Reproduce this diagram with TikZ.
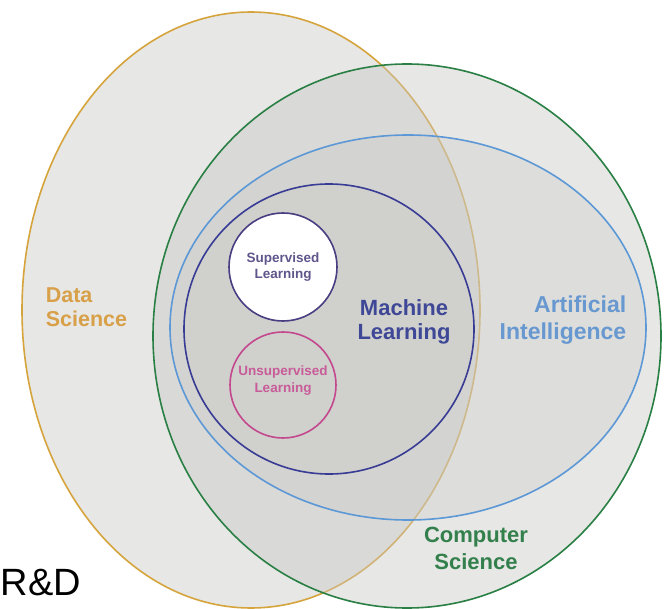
\documentclass[tikz,border=0pt]{standalone}
\usepackage{fontspec}
\setmainfont{Liberation Sans}
\usepackage{tikz}
\usetikzlibrary{positioning,shapes}
\definecolor{dsgold}{RGB}{214,164,60}
\definecolor{dstext}{RGB}{216,160,72}
\definecolor{csgreen}{RGB}{42,128,68}
\definecolor{cstext}{RGB}{52,128,76}
\definecolor{aiblue}{RGB}{92,152,214}
\definecolor{aitext}{RGB}{104,152,208}
\definecolor{mlnavy}{RGB}{56,60,148}
\definecolor{mltext}{RGB}{62,72,150}
\definecolor{supline}{RGB}{72,62,130}
\definecolor{suptext}{RGB}{96,86,140}
\definecolor{unsline}{RGB}{196,72,142}
\definecolor{unstext}{RGB}{200,92,152}
\definecolor{venngray}{RGB}{200,200,196}

\begin{document}
\begin{tikzpicture}[x=1pt, y=-1pt, line width=1.6pt, every node/.append style={inner sep=0pt, font=\bfseries}]
  \useasboundingbox (0,0) rectangle (671,609);
  \path[fill=white] (0,0) rectangle (671,609);
  \draw[draw=dsgold, fill=venngray, fill opacity=.42] (251,310) ellipse [x radius=229, y radius=298];
  \draw[draw=csgreen, fill=venngray, fill opacity=.42] (407,336) ellipse [x radius=254, y radius=272];
  \draw[draw=aiblue, fill=venngray, fill opacity=.3] (408,327.5) ellipse [x radius=238, y radius=192.5];
  \draw[draw=mlnavy, fill=venngray, fill opacity=.25] (329,329) circle [radius=145];
  \draw[draw=supline, fill=white] (283,267) circle [radius=54];
  \draw[draw=unsline] (283,385) circle [radius=53];
  \node [align=left, anchor=west, text=dstext, font=\bfseries\fontsize{21.5}{24}\selectfont] at (45,307) (ds) {Data\\Science};
  \node [align=center, text=mltext, font=\bfseries\fontsize{22}{24}\selectfont] at (404,322) (ml) {Machine\\Learning};
  \node [align=right, anchor=east, text=aitext, font=\bfseries\fontsize{23}{27}\selectfont] at (627,320) (ai) {Artificial\\Intelligence};
  \node [align=center, text=cstext, font=\bfseries\fontsize{22}{27}\selectfont] at (476,548) (cs) {Computer\\Science};
  \node [align=center, text=suptext, font=\bfseries\fontsize{13.5}{16}\selectfont] at (283,267) (sup) {Supervised\\Learning};
  \node [align=center, text=unstext, font=\bfseries\fontsize{13.5}{17}\selectfont] at (283,381) (uns) {Unsupervised\\Learning};
  \node [anchor=base west, font=\fontsize{38}{40}\selectfont] at (0,595) (rd) {R\&D};
\end{tikzpicture}
\end{document}
